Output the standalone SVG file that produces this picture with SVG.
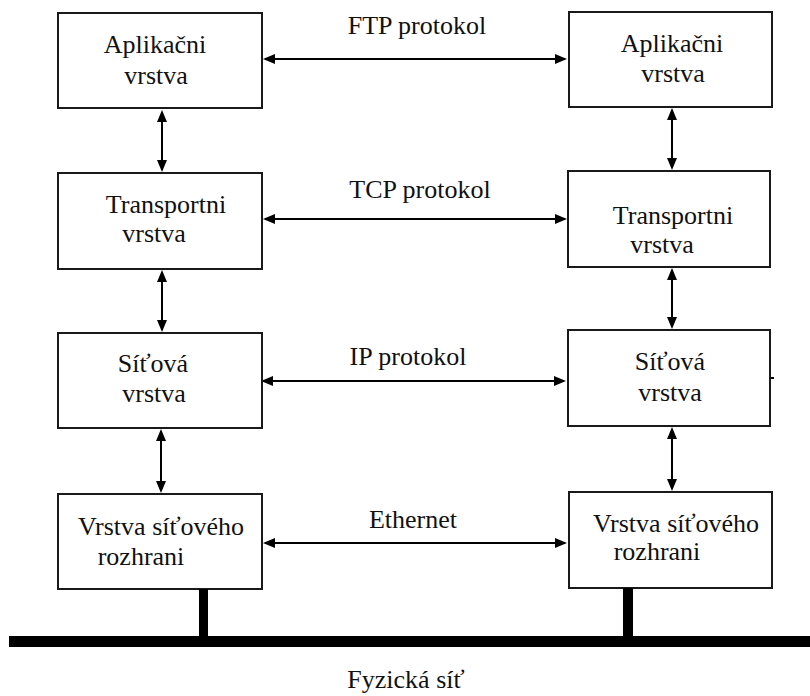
<svg xmlns="http://www.w3.org/2000/svg" width="810" height="696" viewBox="0 0 810 696">
<defs>
<style>
.box{fill:#fff;stroke:#1a1a1a;stroke-width:2}
.t{font-family:"Liberation Serif",serif;font-size:26px;fill:#111;text-anchor:middle}
.c{stroke:#000;stroke-width:2;fill:none}
.ah{fill:#000}
</style>
<path id="ar" d="M0,0 L-12,-5 L-12,5 z"/>
</defs>
<rect width="810" height="696" fill="#fff"/>
<g id="connectors">
<line class="c" x1="265" y1="59" x2="565" y2="59"/>
<use href="#ar" class="ah" transform="translate(263,59) rotate(180)"/>
<use href="#ar" class="ah" transform="translate(567,59)"/>
<line class="c" x1="265" y1="219" x2="565" y2="219"/>
<use href="#ar" class="ah" transform="translate(263,219) rotate(180)"/>
<use href="#ar" class="ah" transform="translate(567,219)"/>
<line class="c" x1="263" y1="381" x2="564" y2="381"/>
<use href="#ar" class="ah" transform="translate(261,381) rotate(180)"/>
<use href="#ar" class="ah" transform="translate(566,381)"/>
<line class="c" x1="265" y1="543" x2="565" y2="543"/>
<use href="#ar" class="ah" transform="translate(263,543) rotate(180)"/>
<use href="#ar" class="ah" transform="translate(567,543)"/>
<line class="c" x1="162" y1="112" x2="162" y2="170"/>
<use href="#ar" class="ah" transform="translate(162,110) rotate(-90)"/>
<use href="#ar" class="ah" transform="translate(162,172) rotate(90)"/>
<line class="c" x1="162" y1="272" x2="162" y2="330"/>
<use href="#ar" class="ah" transform="translate(162,270) rotate(-90)"/>
<use href="#ar" class="ah" transform="translate(162,332) rotate(90)"/>
<line class="c" x1="161" y1="431" x2="161" y2="491"/>
<use href="#ar" class="ah" transform="translate(161,429) rotate(-90)"/>
<use href="#ar" class="ah" transform="translate(161,493) rotate(90)"/>
<line class="c" x1="672" y1="110" x2="672" y2="168"/>
<use href="#ar" class="ah" transform="translate(672,108) rotate(-90)"/>
<use href="#ar" class="ah" transform="translate(672,170) rotate(90)"/>
<line class="c" x1="672" y1="270" x2="672" y2="327"/>
<use href="#ar" class="ah" transform="translate(672,268) rotate(-90)"/>
<use href="#ar" class="ah" transform="translate(672,329) rotate(90)"/>
<line class="c" x1="672" y1="429" x2="672" y2="489"/>
<use href="#ar" class="ah" transform="translate(672,427) rotate(-90)"/>
<use href="#ar" class="ah" transform="translate(672,491) rotate(90)"/>
<line x1="770" y1="378" x2="774" y2="378" stroke="#000" stroke-width="2"/>
</g>
<g id="label-ftp"><text class="t" x="417" y="34">FTP protokol</text></g>
<g id="label-tcp"><text class="t" x="420" y="198">TCP protokol</text></g>
<g id="label-ip"><text class="t" x="408" y="365">IP protokol</text></g>
<g id="label-eth"><text class="t" x="413" y="528">Ethernet</text></g>
<g id="app-left"><rect class="box" x="58" y="13" width="204" height="95"/>
<text class="t" x="155" y="53">Aplikačni</text><text class="t" x="156" y="84">vrstva</text></g>
<g id="app-right"><rect class="box" x="569" y="12" width="203" height="95"/>
<text class="t" x="672" y="52">Aplikačni</text><text class="t" x="673" y="82">vrstva</text></g>
<g id="tr-left"><rect class="box" x="58" y="173" width="204" height="96"/>
<text class="t" x="166" y="213">Transportni</text><text class="t" x="154" y="242">vrstva</text></g>
<g id="tr-right"><rect class="box" x="568" y="171" width="202" height="96"/>
<text class="t" x="673" y="224">Transportni</text><text class="t" x="662" y="253">vrstva</text></g>
<g id="net-left"><rect class="box" x="58" y="333" width="204" height="95"/>
<text class="t" x="153" y="372">Síťová</text><text class="t" x="154" y="402">vrstva</text></g>
<g id="net-right"><rect class="box" x="568" y="330" width="202" height="96"/>
<text class="t" x="670" y="370">Síťová</text><text class="t" x="670" y="401">vrstva</text></g>
<g id="if-left"><rect class="box" x="58" y="494" width="204" height="95"/>
<text class="t" x="161" y="535">Vrstva síťového</text><text class="t" x="141" y="565">rozhrani</text></g>
<g id="if-right"><rect class="box" x="569" y="492" width="203" height="96"/>
<text class="t" x="676" y="532">Vrstva síťového</text><text class="t" x="657" y="560">rozhrani</text></g>
<g id="bus">
<rect x="199" y="589" width="9" height="50" fill="#000"/>
<rect x="623" y="588" width="10" height="51" fill="#000"/>
<rect x="9" y="636" width="801" height="11" fill="#000"/>
<text class="t" x="406" y="688">Fyzická síť</text>
</g>
</svg>
